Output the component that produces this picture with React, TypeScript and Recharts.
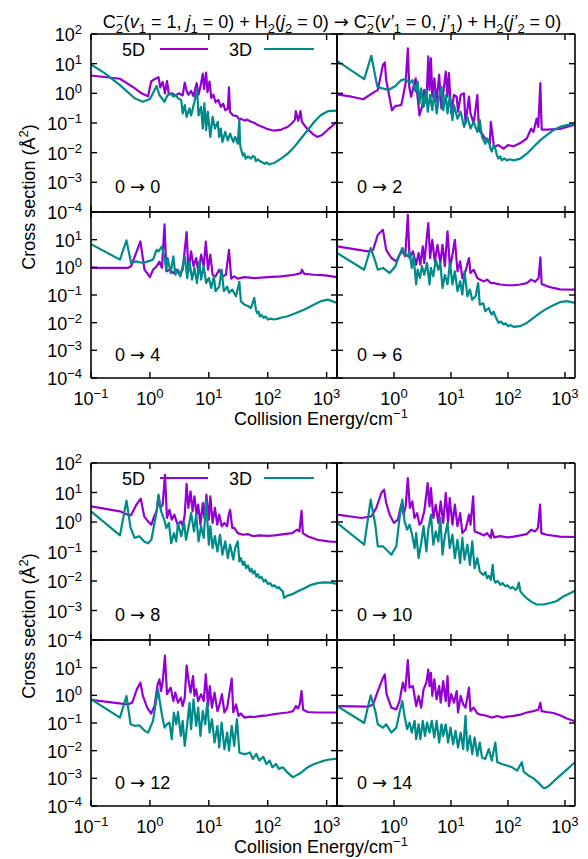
import { LineChart, Line, XAxis, YAxis } from "recharts";

const PURPLE = "#9400d3";
const TEAL = "#008b8b";
const FONT = "'Liberation Sans', Arial, Helvetica, sans-serif";
const FS = 18;
const SS = 13;

const energyTicks = [0.1, 1, 10, 100, 1000];
const sigmaTicks = [1e-4, 1e-3, 1e-2, 1e-1, 1, 10, 100];

// [collision energy (cm^-1), cross section (Å^2)]
const c00_5d = [[0.1,4.0],[0.31,3.1],[0.55,1.5],[0.72,1.0],[0.93,0.8],[1.05,2.5],[1.2,3.0],[1.4,3.5],[1.5,1.6],[1.65,2.4],[1.8,1.0],[1.95,2.6],[2.1,0.9],[2.4,1.0],[2.7,0.85],[3.1,1.0],[3.6,0.85],[3.9,2.3],[4.2,1.2],[4.5,0.9],[5.0,1.2],[5.5,0.8],[6.2,2.2],[6.7,0.9],[7.4,2.2],[7.9,4.6],[8.3,1.4],[9.0,5.0],[9.5,1.1],[10.3,2.5],[11,0.7],[12,0.9],[13,0.5],[14.5,0.6],[16,0.35],[17.5,0.45],[19,0.27],[21,0.3],[22,1.6],[23,0.23],[26,0.18],[30,0.17],[33,0.13],[35,0.14],[40,0.12],[45,0.13],[52,0.11],[60,0.1],[68,0.085],[80,0.075],[90,0.068],[100,0.062],[115,0.058],[130,0.055],[170,0.06],[220,0.075],[260,0.1],[290,0.13],[300,0.25],[330,0.12],[360,0.25],[380,0.11],[450,0.07],[600,0.04],[700,0.034],[850,0.04],[1100,0.065],[1500,0.11]];
const c00_3d = [[0.1,9.5],[0.17,4.8],[0.31,1.9],[0.55,0.68],[0.76,0.52],[1.0,0.64],[1.3,1.77],[1.45,0.88],[1.77,0.52],[2.0,0.88],[2.3,1.0],[2.5,0.77],[2.75,0.88],[3.0,0.68],[3.4,0.59],[3.6,0.21],[3.9,0.4],[4.2,0.16],[4.7,0.31],[5.0,0.18],[5.7,0.52],[6.3,1.4],[6.7,0.18],[7.4,0.35],[7.9,0.065],[8.4,0.46],[9.0,0.057],[9.6,0.24],[10.6,0.034],[11.6,0.16],[12.7,0.065],[14.2,0.11],[15,0.034],[16,0.065],[17,0.023],[19,0.05],[21,0.026],[23,0.044],[26,0.023],[28,0.034],[31,0.02],[33,0.125],[34,0.018],[36,0.011],[38,0.008],[40,0.0095],[42,0.0063],[46,0.0075],[52,0.0063],[56,0.0078],[60,0.0072],[63,0.0052],[68,0.006],[73,0.0052],[80,0.0048],[89,0.0042],[95,0.0047],[107,0.004],[118,0.0043],[130,0.0045],[168,0.0063],[218,0.0092],[283,0.0156],[367,0.03],[476,0.057],[618,0.11],[802,0.185],[1050,0.25],[1500,0.26]];

const c02_5d = [[0.1,0.92],[0.18,0.77],[0.29,0.63],[0.46,1.14],[0.52,1.3],[0.64,9.1],[0.69,11],[0.73,2.8],[0.92,0.27],[1.05,0.37],[1.34,0.4],[1.48,1.0],[1.6,2.2],[1.75,33],[1.85,1.7],[2.0,0.77],[2.4,3.2],[2.8,0.18],[3.1,0.35],[3.4,1.3],[3.7,0.46],[4.0,17.5],[4.2,1.3],[4.45,15],[4.7,0.77],[5.1,3.2],[5.6,0.52],[6.2,4.2],[6.8,0.31],[8.1,5.4],[8.7,0.77],[9.2,4.8],[10.1,0.21],[11.3,0.88],[12.6,0.77],[13.3,0.24],[14.8,0.88],[16.9,1.0],[18,0.096],[20.7,0.77],[22,0.21],[25,0.096],[29,0.88],[31,0.057],[35,0.044],[40,0.03],[48,0.02],[50,0.11],[57,0.0156],[68,0.018],[84,0.0137],[100,0.018],[126,0.0165],[164,0.021],[214,0.03],[255,0.065],[280,0.05],[318,0.14],[340,0.074],[370,2.2],[390,0.06],[478,0.06],[816,0.063],[1080,0.074],[1500,0.088]];
const c02_3d = [[0.1,12.5],[0.3,3.0],[0.4,18.4],[0.51,1.68],[0.6,1.5],[0.8,1.3],[1.06,1.77],[1.34,2.8],[1.6,3.0],[1.9,2.2],[2.1,2.8],[2.4,1.14],[2.6,2.5],[2.8,0.46],[3.0,1.48],[3.3,0.35],[3.7,1.3],[3.9,0.24],[4.3,0.88],[4.7,0.27],[5.1,1.14],[5.6,0.21],[6.2,0.77],[6.8,1.68],[7.3,0.27],[8.1,0.88],[8.7,0.21],[9.5,0.77],[10.6,0.125],[11.3,0.4],[13,0.14],[14.8,0.24],[16.9,0.074],[19.4,0.16],[22,0.065],[25,0.11],[29,0.05],[32,0.125],[35,0.034],[40,0.02],[43,0.03],[46,0.026],[49,0.014],[52,0.011],[56,0.018],[60,0.0137],[64,0.008],[68,0.0063],[73,0.0075],[78,0.0055],[86,0.0064],[96,0.0055],[108,0.006],[126,0.0055],[164,0.0063],[214,0.0092],[280,0.0156],[366,0.026],[478,0.039],[625,0.057],[816,0.074],[1080,0.085],[1500,0.09]];

const c04_5d = [[0.1,0.95],[0.42,0.95],[0.48,1.1],[0.69,8.6],[0.81,0.82],[1.0,0.44],[1.13,0.82],[1.3,1.1],[1.45,1.6],[1.6,0.95],[1.77,36],[1.9,0.72],[2.15,0.82],[2.5,0.62],[2.8,0.82],[3.2,0.54],[3.6,0.82],[4.2,18.7],[4.5,0.72],[5.0,3.8],[5.5,1.1],[6.1,2.17],[6.7,0.62],[7.4,2.86],[8.2,1.1],[8.9,8.6],[9.7,0.82],[10.6,2.86],[11.6,0.54],[13,0.47],[15,0.82],[17,0.47],[19.5,0.54],[22,4.3],[24,0.39],[27,0.47],[31,0.39],[40,0.44],[59,0.41],[100,0.44],[168,0.47],[283,0.54],[367,0.62],[380,0.82],[420,0.58],[618,0.54],[950,0.51],[1500,0.44]];
const c04_3d = [[0.1,6.9],[0.31,1.9],[0.4,9.4],[0.48,1.43],[0.58,1.64],[0.76,1.43],[0.92,1.64],[1.13,1.9],[1.3,4.3],[1.4,3.8],[1.6,5.7],[1.77,2.17],[1.9,0.82],[2.0,2.17],[2.25,0.62],[2.5,2.5],[2.7,0.54],[3.0,0.82],[3.3,0.47],[3.6,1.1],[3.9,2.5],[4.3,0.41],[4.7,1.64],[5.2,0.36],[5.7,0.95],[6.3,0.27],[6.9,1.64],[7.4,0.36],[8.2,1.1],[9.0,0.27],[10,0.41],[11,0.18],[12.2,0.47],[13,0.137],[15,0.2],[16.5,0.82],[18,0.137],[20.5,0.2],[22,0.12],[25,0.157],[29,0.09],[33,0.3],[35,0.06],[40,0.045],[46,0.04],[52,0.034],[59,0.079],[63,0.03],[66,0.022],[70,0.025],[73,0.017],[78,0.019],[85,0.015],[92,0.017],[100,0.013],[112,0.014],[130,0.013],[150,0.014],[168,0.015],[218,0.017],[283,0.021],[420,0.03],[618,0.045],[802,0.06],[1050,0.068],[1500,0.052]];

const c06_5d = [[0.1,5.7],[0.35,3.8],[0.43,4.3],[0.52,15],[0.64,22.7],[0.73,4.3],[0.9,2.17],[1.1,1.64],[1.25,2.86],[1.43,3.8],[1.57,2.5],[1.75,79],[1.87,2.17],[2.15,3.8],[2.45,1.25],[2.7,3.3],[2.9,1.25],[3.2,5.7],[3.4,1.43],[3.8,15],[4.0,39.6],[4.3,2.17],[4.7,9.9],[5.2,1.64],[5.8,6.5],[6.5,1.43],[7.1,6.5],[7.8,1.1],[8.7,19.8],[9.6,0.95],[10.6,2.86],[11.7,9.9],[13,0.72],[14.5,1.64],[15.8,0.41],[18,0.72],[20.7,2.17],[22,0.62],[25,0.82],[29,0.41],[32,0.36],[37.8,0.31],[43,0.36],[50,0.27],[56,0.27],[73.6,0.24],[96,0.225],[126,0.225],[164,0.24],[214,0.27],[255,0.36],[300,0.3],[345,0.41],[370,2.3],[390,0.25],[478,0.21],[625,0.18],[816,0.16],[1500,0.157]];
const c06_3d = [[0.1,3.3],[0.3,0.82],[0.39,5.0],[0.47,1.64],[0.52,0.82],[0.64,0.95],[0.84,0.62],[1.06,1.1],[1.25,2.86],[1.4,5.0],[1.53,3.3],[1.75,2.5],[1.87,3.8],[2.05,0.95],[2.2,2.5],[2.45,0.24],[2.6,0.82],[2.85,0.41],[3.1,1.1],[3.4,0.54],[3.8,1.43],[4.2,0.24],[4.45,0.95],[4.9,0.47],[5.4,1.9],[6.0,0.82],[6.5,1.43],[7.1,0.18],[7.8,0.54],[8.7,0.24],[9.6,1.43],[10.6,0.24],[11.7,0.72],[13,0.137],[14.5,0.31],[15.8,0.104],[17.3,0.72],[19.4,0.09],[21.5,0.157],[23.6,0.068],[27,0.09],[30,0.27],[32,0.045],[36.8,0.05],[40,0.026],[46,0.034],[49,0.024],[52,0.0197],[56,0.025],[60,0.017],[64,0.013],[68,0.0098],[75,0.011],[84,0.0086],[92,0.0095],[100,0.0075],[112,0.0082],[126,0.007],[164,0.0075],[214,0.0098],[280,0.015],[366,0.0227],[478,0.032],[625,0.043],[816,0.055],[1080,0.06],[1500,0.052]];

const c08_5d = [[0.1,3.4],[0.31,2.3],[0.42,1.77],[0.48,1.7],[0.59,3.9],[0.7,6.2],[0.8,1.56],[0.93,1.05],[1.06,0.81],[1.18,1.56],[1.3,2.3],[1.4,7.4],[1.5,3.0],[1.65,3.9],[1.8,40],[1.95,1.37],[2.15,2.6],[2.35,1.2],[2.6,1.77],[2.95,0.81],[3.35,1.05],[3.6,0.72],[3.9,1.77],[4.2,19.5],[4.5,3.0],[4.9,11],[5.3,2.3],[5.7,7.4],[6.2,1.77],[6.6,3.9],[7.2,0.81],[7.9,4.4],[8.4,1.37],[9.1,8.5],[10,1.2],[10.6,7.4],[11.6,0.93],[12.7,3.0],[13.9,0.81],[15,1.77],[16.6,0.72],[18.4,0.93],[20.5,0.72],[21.5,1.56],[23,2.6],[25,0.63],[27,0.63],[31,0.42],[38,0.37],[46,0.39],[56,0.33],[72,0.35],[100,0.34],[130,0.35],[190,0.39],[260,0.42],[315,0.55],[345,0.48],[375,2.4],[395,0.42],[476,0.33],[700,0.25],[1050,0.22],[1500,0.21]];
const c08_3d = [[0.1,2.3],[0.31,0.35],[0.4,5.3],[0.47,0.63],[0.55,0.29],[0.66,0.33],[0.8,0.22],[0.93,0.19],[1.06,0.25],[1.3,2.3],[1.4,8.5],[1.55,2.3],[1.75,1.2],[1.9,0.63],[2.1,0.93],[2.3,0.19],[2.55,0.42],[2.8,0.22],[3.0,0.93],[3.4,0.33],[3.8,0.93],[4.1,0.25],[4.5,0.63],[5.0,2.0],[5.6,0.48],[6.1,1.77],[6.7,0.22],[7.4,0.72],[8.2,0.29],[9.0,5.7],[10,0.17],[10.6,0.72],[11.6,0.13],[12.7,0.33],[14,0.1],[15.5,0.37],[17,0.078],[19,0.22],[21,0.06],[23,0.17],[26,0.053],[28,0.13],[31,0.22],[33,0.046],[35,0.06],[38,0.035],[40,0.045],[43,0.027],[46,0.034],[50,0.021],[53,0.026],[56,0.018],[60,0.022],[64,0.014],[68,0.017],[72,0.0125],[78,0.014],[86,0.0096],[92,0.011],[100,0.008],[110,0.0085],[120,0.0066],[130,0.0072],[147,0.0057],[155,0.0062],[168,0.005],[180,0.0045],[190,0.0027],[218,0.0032],[265,0.0036],[320,0.0044],[420,0.0057],[545,0.0074],[700,0.0085],[900,0.009],[1180,0.0088],[1500,0.008]];

const c10_5d = [[0.1,1.77],[0.27,1.37],[0.4,1.56],[0.49,3.0],[0.6,9.6],[0.67,12.5],[0.73,4.4],[0.84,1.77],[1.0,0.93],[1.17,1.2],[1.34,3.9],[1.48,1.77],[1.6,3.4],[1.75,31],[1.9,3.0],[2.1,5.0],[2.28,1.37],[2.55,2.0],[2.8,0.81],[3.0,0.93],[3.4,2.3],[3.9,21],[4.2,3.4],[4.45,14],[4.9,1.37],[5.4,3.9],[6.0,0.93],[6.6,5.0],[7.3,0.93],[8.1,9.6],[8.9,0.93],[9.5,6.5],[10.6,0.81],[11.7,3.9],[13,0.72],[14.5,2.0],[15.8,0.42],[18,0.55],[20.7,1.77],[22,0.81],[24.5,7.4],[26,0.48],[31,0.42],[38,0.35],[43,0.42],[50,0.29],[52,0.55],[57,0.3],[74,0.33],[96,0.3],[126,0.32],[164,0.35],[214,0.39],[255,0.55],[300,0.48],[335,0.63],[366,3.9],[385,0.42],[478,0.37],[816,0.32],[1500,0.31]];
const c10_3d = [[0.1,0.93],[0.3,0.17],[0.39,5.7],[0.47,0.81],[0.52,0.15],[0.64,0.15],[0.9,0.078],[1.1,0.15],[1.25,1.37],[1.4,5.7],[1.53,1.05],[1.7,0.55],[1.87,0.81],[2.05,0.42],[2.3,0.13],[2.45,0.42],[2.7,0.06],[3.0,0.19],[3.3,0.72],[3.7,0.1],[4.0,0.55],[4.45,1.77],[4.9,0.17],[5.4,0.48],[6.0,0.22],[6.5,1.37],[7.1,0.078],[7.8,0.33],[8.7,0.93],[9.5,0.13],[10.6,0.37],[11.7,0.06],[13,0.25],[14.5,0.04],[15.8,0.29],[17.3,0.053],[19.4,0.17],[21.5,0.035],[23.6,0.22],[26,0.027],[29,0.06],[32,0.021],[36.8,0.016],[40,0.02],[43,0.0125],[46,0.015],[50,0.011],[54,0.035],[57,0.011],[60,0.0088],[66,0.01],[74,0.0074],[80,0.0085],[90,0.0066],[98,0.0072],[110,0.0057],[122,0.0062],[135,0.005],[145,0.0055],[155,0.0088],[165,0.0045],[175,0.0039],[190,0.0032],[214,0.0026],[255,0.002],[318,0.0016],[420,0.0016],[550,0.0018],[720,0.0021],[940,0.003],[1500,0.0047]];

const c12_5d = [[0.1,0.68],[0.42,0.47],[0.5,0.54],[0.6,1.64],[0.69,2.86],[0.76,0.95],[0.9,0.36],[1.05,0.22],[1.2,0.41],[1.35,2.5],[1.45,3.8],[1.55,1.43],[1.65,3.3],[1.8,27.5],[1.95,1.1],[2.25,1.9],[2.5,0.62],[2.7,1.25],[3.0,0.54],[3.35,0.82],[3.6,0.41],[3.9,0.82],[4.2,12],[4.5,3.8],[4.9,1.25],[5.4,5.0],[5.7,0.95],[6.1,1.64],[6.6,0.62],[7.4,1.1],[8.2,0.62],[8.9,5.7],[9.7,0.41],[10.4,2.17],[11.3,0.36],[12.5,1.25],[14,0.27],[15,0.41],[16.7,1.1],[18.4,0.24],[20.5,0.36],[22,0.95],[24.5,4.0],[26,0.24],[29,0.47],[32,0.18],[35,0.22],[40,0.157],[50,0.17],[59,0.165],[77,0.18],[100,0.19],[130,0.21],[168,0.225],[218,0.24],[270,0.27],[300,0.41],[325,0.33],[350,0.47],[375,1.43],[400,0.3],[476,0.25],[700,0.24],[1500,0.24]];
const c12_3d = [[0.1,0.72],[0.31,0.157],[0.4,0.95],[0.47,0.09],[0.55,0.079],[0.66,0.083],[0.82,0.052],[0.93,0.045],[1.13,0.12],[1.37,1.64],[1.45,0.72],[1.6,0.2],[1.77,0.068],[1.95,0.09],[2.15,0.104],[2.35,0.026],[2.55,0.24],[2.8,0.09],[3.0,0.25],[3.35,0.034],[3.6,0.12],[3.9,0.015],[4.3,0.09],[4.7,0.54],[5.0,0.06],[5.5,0.72],[6.1,0.079],[6.6,0.36],[7.2,0.034],[7.9,0.27],[8.7,0.09],[9.4,0.54],[10.3,0.045],[11.3,0.137],[12.5,0.0197],[14,0.079],[15,0.013],[16.5,0.104],[18.4,0.0114],[20.5,0.045],[22,0.01],[24.5,0.079],[27,0.015],[30,0.137],[33,0.0086],[38,0.0076],[43,0.0076],[50,0.0086],[56,0.005],[64,0.0076],[72,0.0044],[84,0.006],[95,0.0033],[108,0.0044],[120,0.0025],[138,0.0033],[155,0.0022],[180,0.0025],[218,0.0016],[265,0.0011],[290,0.0012],[367,0.0016],[476,0.0025],[618,0.0033],[802,0.004],[1050,0.0047],[1500,0.0052]];

const c14_5d = [[0.1,0.41],[0.35,0.39],[0.43,0.47],[0.52,1.43],[0.64,4.3],[0.69,5.7],[0.74,1.1],[0.9,0.36],[1.1,0.31],[1.25,0.62],[1.43,2.86],[1.57,1.43],[1.75,18.7],[1.87,1.9],[2.15,2.17],[2.45,0.41],[2.7,0.95],[3.0,0.36],[3.3,1.64],[3.7,2.86],[4.0,8.6],[4.2,2.17],[4.45,6.5],[4.7,0.95],[5.1,3.8],[5.6,0.72],[6.2,2.17],[6.6,0.54],[7.3,3.3],[8.1,0.62],[8.7,5.0],[9.2,0.41],[10.1,1.1],[11.3,0.54],[12.6,1.43],[13.3,0.24],[14.8,0.95],[16.4,0.47],[18,0.36],[20.7,1.9],[22,0.27],[25,0.36],[29,0.22],[33,0.2],[37.8,0.19],[43,0.18],[52,0.157],[65,0.18],[80,0.157],[96,0.17],[126,0.18],[164,0.2],[214,0.24],[280,0.27],[340,0.3],[370,0.54],[390,0.27],[478,0.25],[625,0.23],[816,0.19],[1080,0.145],[1500,0.115]];
const c14_3d = [[0.1,0.41],[0.3,0.1],[0.39,1.0],[0.47,0.27],[0.52,0.09],[0.64,0.068],[0.73,0.09],[0.9,0.045],[1.1,0.068],[1.25,0.24],[1.4,0.62],[1.53,0.18],[1.7,0.06],[1.87,0.104],[2.05,0.045],[2.3,0.12],[2.45,0.026],[2.7,0.09],[2.9,0.026],[3.2,0.12],[3.5,0.034],[3.8,0.104],[4.2,0.045],[4.6,0.12],[5.1,0.03],[5.6,0.12],[6.2,0.0197],[6.8,0.09],[7.3,0.034],[8.1,0.09],[8.9,0.0197],[9.8,0.068],[10.9,0.017],[12,0.052],[13.3,0.013],[14.8,0.045],[16.4,0.0114],[18,0.18],[19.4,0.01],[21.5,0.034],[23.6,0.0075],[26,0.03],[29,0.0065],[32,0.0197],[35,0.0057],[40,0.005],[46,0.0114],[52,0.0044],[60,0.0197],[65,0.0038],[78,0.0033],[96,0.0029],[118,0.0025],[145,0.0019],[175,0.0038],[190,0.0017],[225,0.0013],[280,0.001],[340,0.0007],[420,0.00045],[450,0.00044],[530,0.00055],[720,0.001],[940,0.0016],[1500,0.0038]];

const toRows = (pts: number[][]) => pts.map(([e, s]) => ({ e, s }));
const expLabel = (v: number) => {
  const n = Math.round(Math.log10(v));
  return { n, txt: n < 0 ? `−${-n}` : `${n}` };
};

const frame = { stroke: "#000", strokeWidth: 1.6 };
const tickStroke = { stroke: "#000", strokeWidth: 1.4 };

type Part = [string, string?];

// k: "_" subscript, "^" superscript, "<" stack over the previous glyph, "i" italic, "a" arrow font
function Rich({ x, y, parts, size = FS, anchor = "start", transform }: any) {
  let shift = 0;
  return (
    <text x={x} y={y} fontSize={size} textAnchor={anchor} transform={transform} fill="#000" style={{ whiteSpace: "pre" }}>
      {parts.map(([t, k = ""]: Part, i: number) => {
        const target = k.includes("_") ? 5 : k.includes("^") ? -7 : 0;
        const dy = target - shift;
        shift = target;
        return (
          <tspan
            key={i}
            dy={dy}
            dx={k.includes("<") ? -7 : undefined}
            fontSize={target ? SS : undefined}
            fontStyle={k.includes("i") ? "italic" : undefined}
            fontFamily={k.includes("a") ? "'DejaVu Sans'" : undefined}
          >
            {t}
          </tspan>
        );
      })}
    </text>
  );
}

// each chart is 1px larger on every side than its plot box: the axes need a non-zero size to be drawn
function Panel({ p }: any) {
  return (
    <div style={{ position: "absolute", left: p.left - 1, top: p.top - 1 }}>
      <LineChart width={p.width + 2} height={p.height + 2} margin={{ top: 0, right: 0, bottom: 0, left: 0 }}>
        <XAxis
          xAxisId="b" dataKey="e" type="number" scale="log" domain={[0.1, 1500]} allowDataOverflow
          ticks={energyTicks} interval={0} height={1} tickSize={0} tickMargin={0} tickLine={false} axisLine={frame}
          tick={(t: any) => {
            const { n, txt } = expLabel(t.payload.value);
            return (
              <g>
                <line x1={t.x} y1={t.y} x2={t.x} y2={t.y - 6} {...tickStroke} />
                {p.xLab && !(p.right && n === -1) && (
                  <text x={t.x} y={t.y + 27} textAnchor="middle" fontSize={FS} fill="#000">
                    10<tspan dy={-7} fontSize={SS}>{txt}</tspan>
                  </text>
                )}
              </g>
            );
          }}
        />
        <XAxis
          xAxisId="t" orientation="top" dataKey="e" type="number" scale="log" domain={[0.1, 1500]} allowDataOverflow
          ticks={energyTicks} interval={0} height={1} tickSize={0} tickMargin={0} tickLine={false} axisLine={frame}
          tick={(t: any) => <line x1={t.x} y1={t.y} x2={t.x} y2={t.y + 6} {...tickStroke} />}
        />
        <YAxis
          yAxisId="l" type="number" scale="log" domain={[1e-4, 100]} allowDataOverflow
          ticks={sigmaTicks} interval={0} width={1} tickSize={0} tickMargin={0} tickLine={false} axisLine={frame}
          tick={(t: any) => {
            const { n, txt } = expLabel(t.payload.value);
            return (
              <g>
                <line x1={t.x} y1={t.y} x2={t.x + 6} y2={t.y} {...tickStroke} />
                {!p.right && !(p.lower && n === 2) && (
                  <text x={t.x - 9} y={t.y + 7} textAnchor="end" fontSize={FS} fill="#000">
                    10<tspan dy={-7} fontSize={SS}>{txt}</tspan>
                  </text>
                )}
              </g>
            );
          }}
        />
        <YAxis
          yAxisId="r" orientation="right" type="number" scale="log" domain={[1e-4, 100]} allowDataOverflow
          ticks={sigmaTicks} interval={0} width={1} tickSize={0} tickMargin={0} tickLine={false} axisLine={frame}
          tick={(t: any) => <line x1={t.x} y1={t.y} x2={t.x - 6} y2={t.y} {...tickStroke} />}
        />
        <Line xAxisId="b" yAxisId="l" data={toRows(p.d5)} dataKey="s" name="5D" type="linear" stroke={PURPLE}
          strokeWidth={2.2} strokeLinejoin="round" dot={false} activeDot={false} isAnimationActive={false} />
        <Line xAxisId="b" yAxisId="l" data={toRows(p.d3)} dataKey="s" name="3D" type="linear" stroke={TEAL}
          strokeWidth={2.2} strokeLinejoin="round" dot={false} activeDot={false} isAnimationActive={false} />
      </LineChart>
    </div>
  );
}

const panels = [
  { tag: "0 → 0", d5: c00_5d, d3: c00_3d, left: 91, top: 34, width: 246, height: 178, right: false, lower: false, xLab: false },
  { tag: "0 → 2", d5: c02_5d, d3: c02_3d, left: 337, top: 34, width: 238, height: 178, right: true, lower: false, xLab: false },
  { tag: "0 → 4", d5: c04_5d, d3: c04_3d, left: 91, top: 212, width: 246, height: 166, right: false, lower: true, xLab: true },
  { tag: "0 → 6", d5: c06_5d, d3: c06_3d, left: 337, top: 212, width: 238, height: 166, right: true, lower: true, xLab: true },
  { tag: "0 → 8", d5: c08_5d, d3: c08_3d, left: 91, top: 463, width: 246, height: 177, right: false, lower: false, xLab: false },
  { tag: "0 → 10", d5: c10_5d, d3: c10_3d, left: 337, top: 463, width: 238, height: 177, right: true, lower: false, xLab: false },
  { tag: "0 → 12", d5: c12_5d, d3: c12_3d, left: 91, top: 640, width: 246, height: 166, right: false, lower: true, xLab: true },
  { tag: "0 → 14", d5: c14_5d, d3: c14_3d, left: 337, top: 640, width: 238, height: 166, right: true, lower: true, xLab: true },
];

const titleParts: Part[] = [
  ["C"], ["2", "_"], ["−", "^<"], ["("], ["v", "i"], ["1", "_"], [" = 1, "], ["j", "i"], ["1", "_"],
  [" = 0) + H"], ["2", "_"], ["("], ["j", "i"], ["2", "_"], [" = 0) "], ["→", "a"], [" C"], ["2", "_"], ["−", "^<"],
  ["("], ["v’", "i"], ["1", "_"], [" = 0, "], ["j’", "i"], ["1", "_"], [") + H"], ["2", "_"], ["("],
  ["j’", "i"], ["2", "_"], [" = 0)"],
];
const yTitle: Part[] = [["Cross section (Å"], ["2", "^"], [")"]];
const xTitle: Part[] = [["Collision Energy/cm"], ["−1", "^"]];

function Overlay() {
  const groups = [
    { legendY: 49, xTitleY: 425, yMid: 197 },
    { legendY: 478, xTitleY: 853, yMid: 626 },
  ];
  return (
    <svg width={588} height={859} style={{ position: "absolute", left: 0, top: 0, pointerEvents: "none" }} fontFamily={FONT}>
      <Rich x={332} y={28} parts={titleParts} anchor="middle" />
      {groups.map((g, i) => (
        <g key={i}>
          <text x={145} y={g.legendY + 7} textAnchor="end" fontSize={FS} fill="#000">5D</text>
          <line x1={160} y1={g.legendY} x2={208} y2={g.legendY} stroke={PURPLE} strokeWidth={2.2} />
          <text x={252} y={g.legendY + 7} textAnchor="end" fontSize={FS} fill="#000">3D</text>
          <line x1={264} y1={g.legendY} x2={314} y2={g.legendY} stroke={TEAL} strokeWidth={2.2} />
          <Rich x={321} y={g.xTitleY} parts={xTitle} anchor="middle" />
          <Rich x={35} y={g.yMid} parts={yTitle} anchor="middle" transform={`rotate(-90 35 ${g.yMid})`} />
        </g>
      ))}
      {panels.map((p) => {
        const [a, b] = p.tag.split(" → ");
        return (
          <text key={p.tag} x={p.right ? 357 : 115} y={p.top + p.height - (p.lower ? 17 : 19)} fontSize={FS} fill="#000" style={{ whiteSpace: "pre" }}>
            {a} <tspan fontFamily="'DejaVu Sans'">→</tspan> {b}
          </text>
        );
      })}
    </svg>
  );
}

export default function App() {
  return (
    <div style={{ position: "absolute", left: 0, top: 0, width: 588, height: 859, background: "#fff", fontFamily: FONT }}>
      <style>{`.recharts-surface{overflow:visible}`}</style>
      {panels.map((p) => (
        <Panel key={p.tag} p={p} />
      ))}
      <Overlay />
    </div>
  );
}
